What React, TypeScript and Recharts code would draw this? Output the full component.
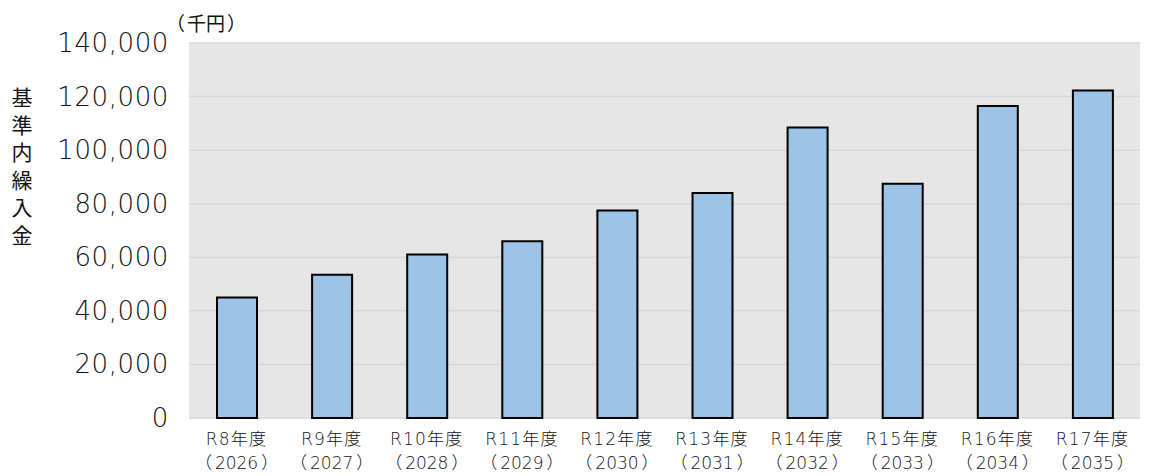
import React from 'react'
import { BarChart, Bar, XAxis, YAxis, CartesianGrid } from 'recharts'

const fiscalYears = ['R8年度', 'R9年度', 'R10年度', 'R11年度', 'R12年度', 'R13年度', 'R14年度', 'R15年度', 'R16年度', 'R17年度']
const calendarYears = ['2026', '2027', '2028', '2029', '2030', '2031', '2032', '2033', '2034', '2035']
const transfers = [45000, 53500, 61000, 66000, 77500, 84000, 108500, 87500, 116500, 122300]
const yTicks = [0, 20000, 40000, 60000, 80000, 100000, 120000, 140000]
const yTitle = '基準内繰入金'
const unitText = '千円'

const data = fiscalYears.map((fy, i) => ({ fy, cy: calendarYears[i], value: transfers[i] }))

const CJK = "'Noto Sans CJK JP', sans-serif"
const MIX = "'DejaVu Sans', 'Noto Sans CJK JP', sans-serif"

const XTick = (props: any) => {
  const { x, y, index } = props
  return (
    <g transform={`translate(${x},${y})`}>
      <text textAnchor="middle" fontFamily={MIX} fontSize={17} fontWeight={300} fill="#111">
        <tspan x={0} dy={19} letterSpacing={1.2}>{fiscalYears[index]}</tspan>
      </text>
      <text y={43} textAnchor="middle" fontFamily={MIX} fontSize={17} fontWeight={300} fill="#111">
        （<tspan dx={3}>{calendarYears[index]}</tspan><tspan dx={3}>）</tspan>
      </text>
    </g>
  )
}

const YTick = (props: any) => {
  const { x, y, payload } = props
  return (
    <text x={x} y={y} dy={9} textAnchor="end" fontFamily={MIX} fontSize={26} fontWeight={300} fill="#111" letterSpacing={0.6}>
      {payload.value.toLocaleString('en-US')}
    </text>
  )
}

const YTitle = (props: any) => {
  const { viewBox } = props
  const top = viewBox.y
  return (
    <g>
      <text fontFamily={CJK} fontSize={21} fill="#111" textAnchor="middle">
        {yTitle.split('').map((ch, i) => (
          <tspan key={i} x={22} y={top + 62 + i * 27.5}>{ch}</tspan>
        ))}
      </text>
      <text x={viewBox.x + viewBox.width - 23} y={top - 12} fontFamily={CJK} fontSize={19} fill="#111">
        （<tspan dx={2}>{unitText}</tspan><tspan dx={2}>）</tspan>
      </text>
    </g>
  )
}

export default function App() {
  return (
    <div style={{ position: 'absolute', left: 0, top: 0, background: '#fff' }}>
      <BarChart width={1149} height={476} data={data} margin={{ top: 43, right: 9, left: 0, bottom: 0 }}>
        <CartesianGrid vertical={false} fill="#e6e6e6" stroke="#d6d6d6" strokeWidth={1.5} />
        <XAxis dataKey="fy" height={58} axisLine={false} tickLine={false} interval={0} tick={<XTick />} />
        <YAxis
          width={189}
          domain={[0, 140000]}
          ticks={yTicks}
          axisLine={false}
          tickLine={false}
          tickMargin={14}
          tick={<YTick />}
          label={<YTitle />}
        />
        <Bar dataKey="value" fill="#9dc3e6" stroke="#000" strokeWidth={2} barSize={40} isAnimationActive={false} />
      </BarChart>
    </div>
  )
}
